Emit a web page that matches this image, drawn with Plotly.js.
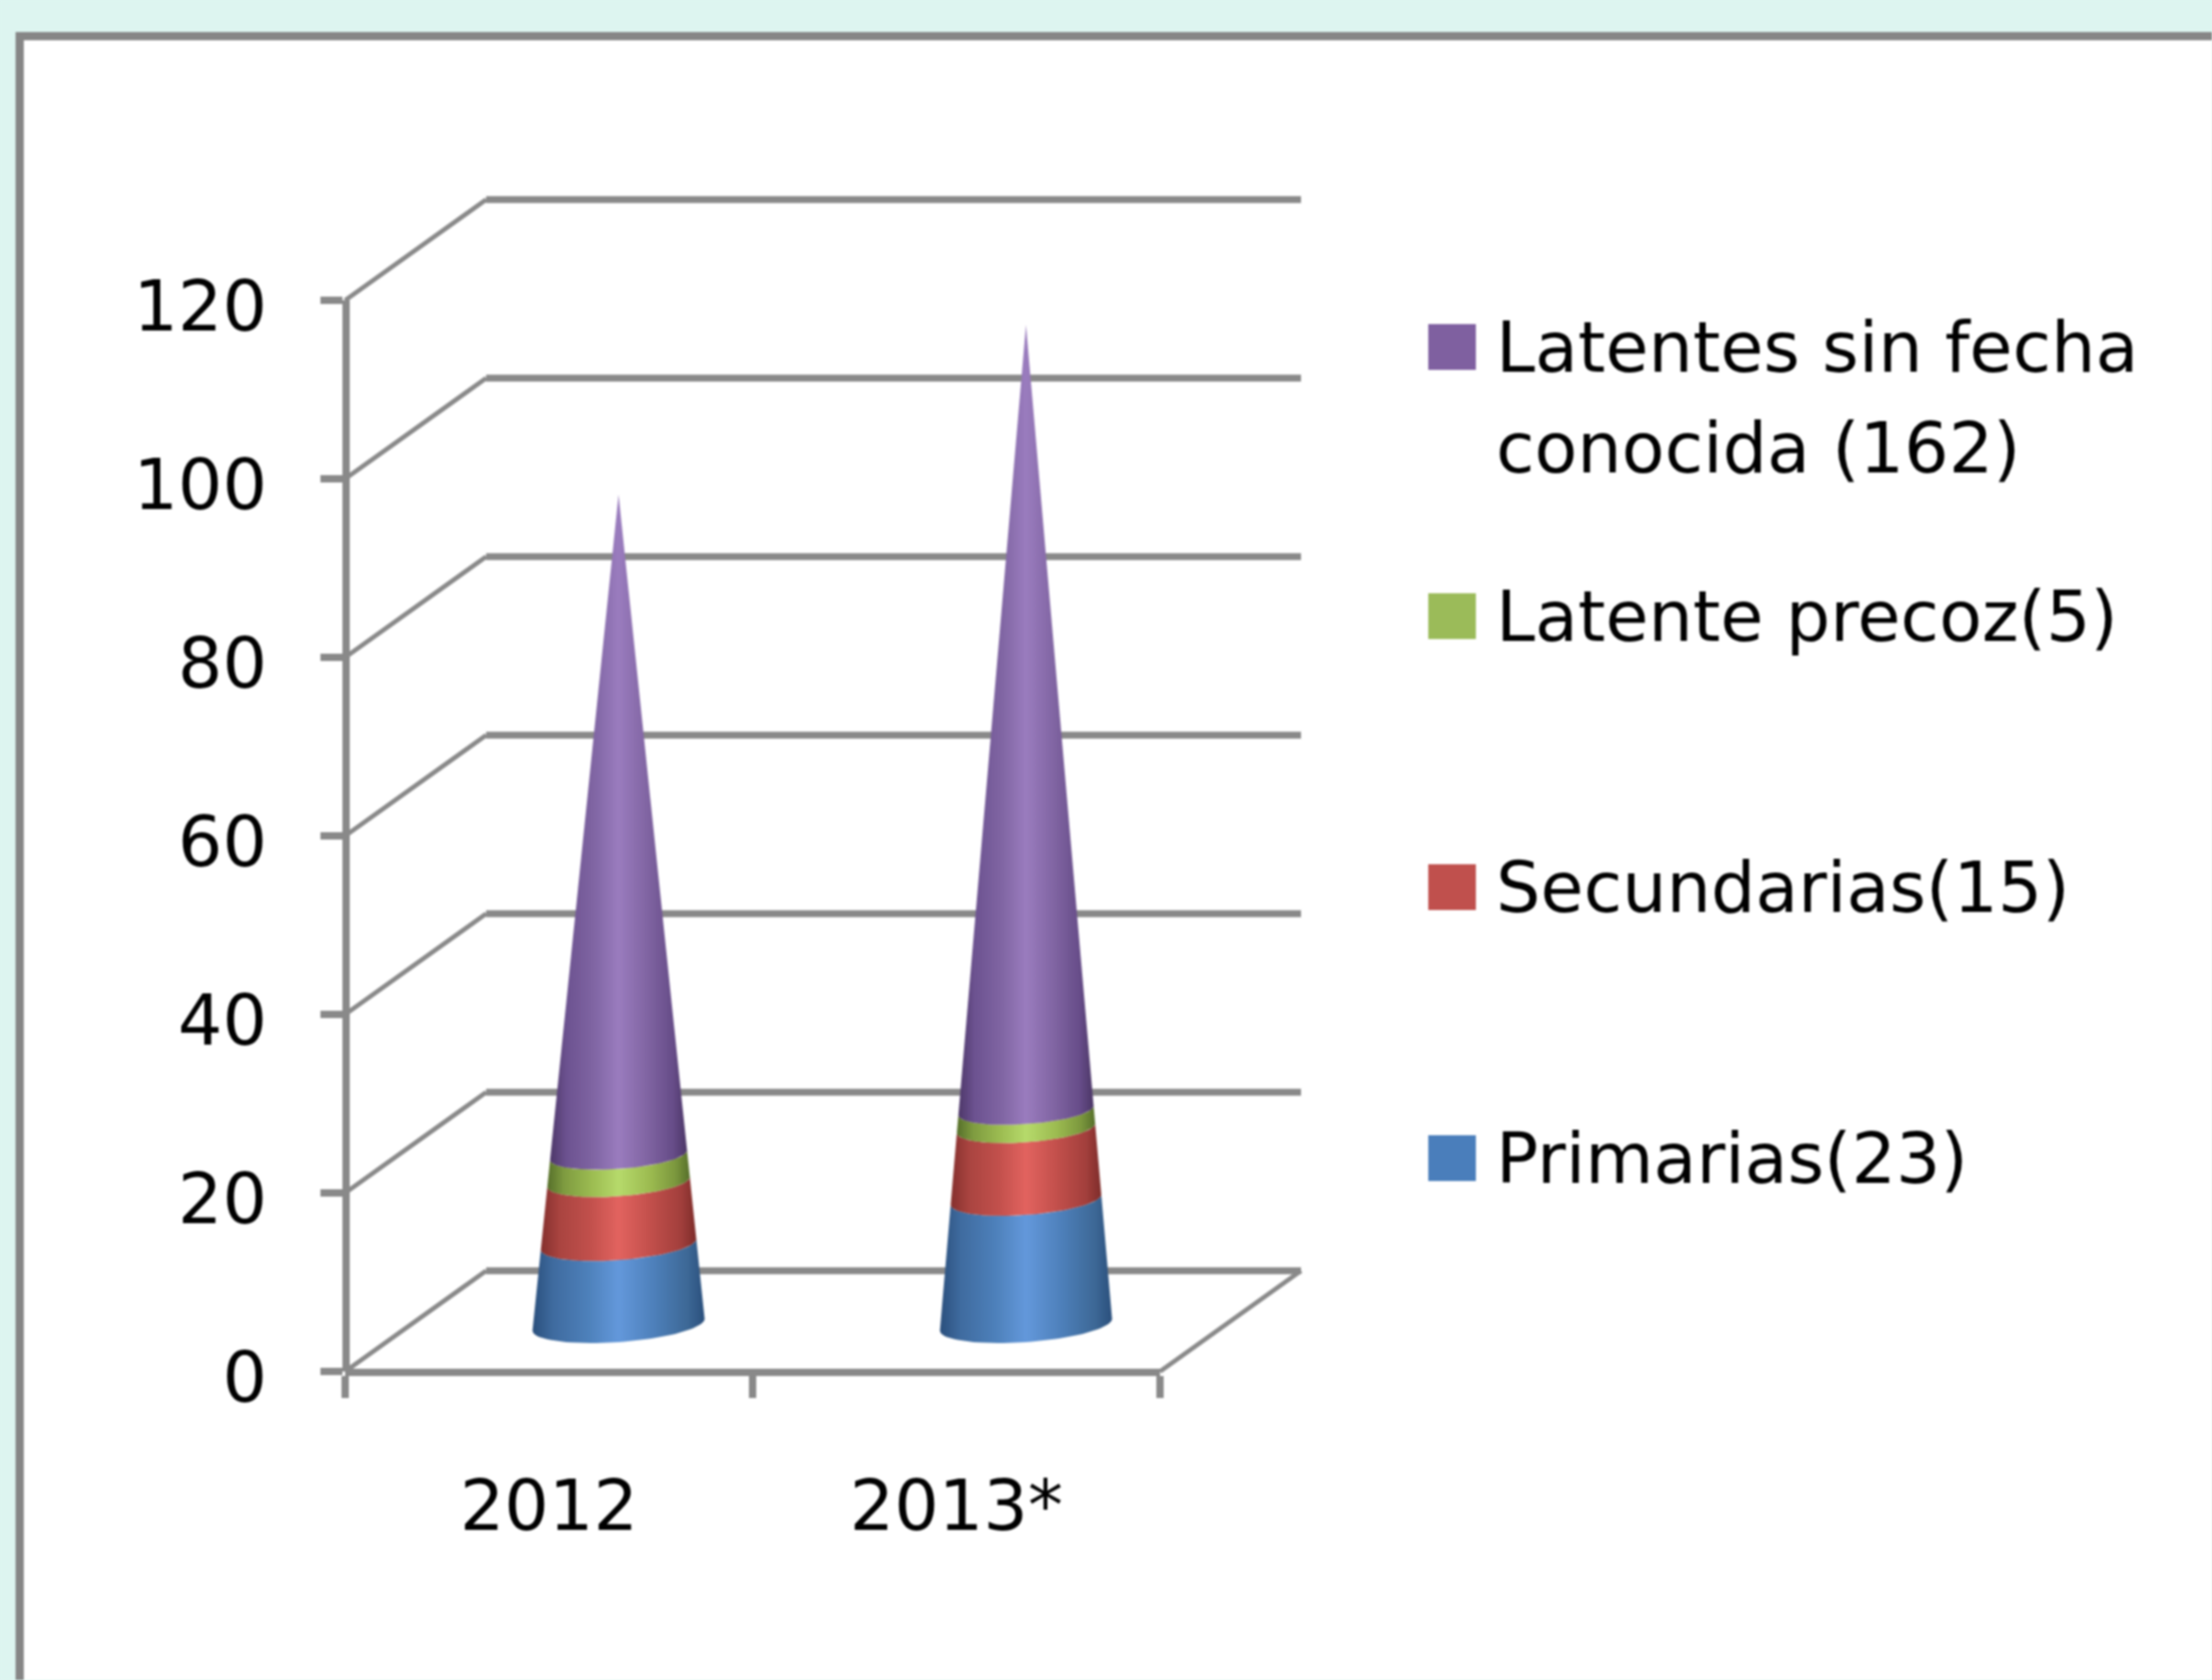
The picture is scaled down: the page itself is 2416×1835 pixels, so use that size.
<!DOCTYPE html>
<html>
<head>
<meta charset="utf-8">
<script src="https://cdn.plot.ly/plotly-3.0.1.min.js"></script>
<style>
html,body{margin:0;padding:0;background:#DDF5F0;overflow:hidden}
#chart{width:2416px;height:1835px;filter:blur(0.8px)}
</style>
</head>
<body>
<div id="chart"></div>
<script>
// ---- data ----
const categories = ['2012', '2013*'];
const primarias = [9, 14];
const secundarias = [7, 8];
const latentePrecoz = [3, 2];
const latentesSinFecha = [74, 88];
const yTicks = [0, 20, 40, 60, 80, 100, 120];
const seriesNames = ['Primarias(23)', 'Secundarias(15)', 'Latente precoz(5)', 'Latentes sin fecha<br>conocida (162)'];

// ---- styles ----
const GRID = '#898989';
const FONT = {family: '"DejaVu Sans", Verdana, sans-serif', size: 76.5, color: '#000000'};
const gradients = [
  [[0,'#2a4f7c'],[0.12,'#3f6b9f'],[0.32,'#4d80ba'],[0.5,'#6398db'],[0.72,'#4c7eb8'],[0.9,'#3d6896'],[1,'#2a4f7c']],
  [[0,'#842f2d'],[0.12,'#a94440'],[0.32,'#c2504c'],[0.5,'#e2635f'],[0.72,'#c04e4a'],[0.9,'#a23f3c'],[1,'#7d2c2a']],
  [[0,'#566f2a'],[0.12,'#7f9c40'],[0.32,'#9dbd52'],[0.5,'#b6da6b'],[0.72,'#9cbb50'],[0.9,'#7b973d'],[1,'#566f2a']],
  [[0,'#4d3769'],[0.12,'#6c5290'],[0.32,'#8065a3'],[0.5,'#9a7cbe'],[0.72,'#7f63a1'],[0.9,'#664c88'],[1,'#4b3666']]
];
const legendColors = ['#4a7ebb', '#c0504d', '#9bbb59', '#7f60a0'];

// ---- page geometry (pixels) ----
const W = 2416, H = 1835;
const L = 377, B = 1498;                  // the axis origin
const unitX = 445, unitY = 9.75;          // pixels for one category / one y unit
const BL = 367, BR = 1436, BT = 205, BB = 1510; // outer drawing box
const px = x => (x - BL) / (BR - BL);
const py = y => (BB - y) / (BB - BT);
const depthX = 154 / unitX, depthY = 110 / unitY;
const coneRx = 94 / unitX, coneRy = 19 / unitY, coneTilt = 6.5 / unitY;
const yMax = yTicks[yTicks.length - 1], nCat = categories.length;
const AXIS_W = 7.5;

const traces = [];
function wall(xs, ys, width) {
  traces.push({x: xs, y: ys, xaxis: 'x2', yaxis: 'y2', mode: 'lines', line: {color: GRID, width: width},
    showlegend: false, hoverinfo: 'skip'});
}
yTicks.forEach(v => {
  wall([0, depthX], [v, v + depthY], 5);
  wall([depthX, nCat + depthX], [v + depthY, v + depthY], 7.5);
});
wall([nCat, nCat + depthX], [0, depthY], 5);

// ---- cones, one polygon per stacked segment ----
const stacks = [primarias, secundarias, latentePrecoz, latentesSinFecha];
function arc(cx, cy, f, reverse) {
  const xs = [], ys = [], n = 48;
  for (let i = 0; i <= n; i++) {
    const t = Math.PI * (reverse ? n - i : i) / n;
    xs.push(cx - coneRx * f * Math.cos(t));
    ys.push(cy - coneRy * f * Math.sin(t) - coneTilt * f * Math.cos(t));
  }
  return [xs, ys];
}
categories.forEach((cat, c) => {
  const total = stacks.reduce((s, a) => s + a[c], 0);
  const cx = c + 0.5 + depthX / 2 - 0.002, y0 = depthY / 2 - 0.4;
  let h = 0;
  stacks.forEach((vals, s) => {
    const h2 = h + vals[c];
    const lo = arc(cx, y0 + h, 1 - h / total, false);
    const hi = arc(cx, y0 + h2, 1 - h2 / total, true);
    traces.push({
      x: lo[0].concat(hi[0]), y: lo[1].concat(hi[1]), xaxis: 'x2', yaxis: 'y2',
      mode: 'lines', line: {width: 0}, fill: 'toself',
      fillgradient: {type: 'horizontal', colorscale: gradients[s]},
      name: seriesNames[s] + ' ' + cat, showlegend: false, hoverinfo: 'skip'
    });
    h = h2;
  });
});
// an empty trace so the tick axes exist
traces.unshift({x: [0, nCat], y: [0, yMax], mode: 'none', showlegend: false, hoverinfo: 'skip'});

// ---- frame and legend ----
const shapes = [{
  type: 'rect', xref: 'paper', yref: 'paper', layer: 'below',
  x0: px(21.5), x1: px(W + 30), y0: py(39.5), y1: py(H + 30),
  fillcolor: '#ffffff', line: {color: '#868686', width: 9}
}];
const annotations = [];
const legendY = [1265, 969, 673, 379];
const LINE_PITCH = 111;
seriesNames.forEach((name, i) => {
  shapes.push({
    type: 'rect', xref: 'paper', yref: 'paper', layer: 'above',
    x0: px(1560), x1: px(1612), y0: py(legendY[i] - 25), y1: py(legendY[i] + 25),
    fillcolor: legendColors[i], line: {width: 0}
  });
  name.split('<br>').forEach((line, k) => {
    annotations.push({
      xref: 'paper', yref: 'paper', x: px(1633), y: py(legendY[i] + k * LINE_PITCH),
      xanchor: 'left', yanchor: 'middle', align: 'left', showarrow: false,
      text: line, font: FONT, borderpad: 0
    });
  });
});

const layout = {
  width: W, height: H, autosize: false,
  margin: {l: BL, r: W - BR, t: BT, b: H - BB, pad: 0},
  paper_bgcolor: '#DDF5F0', plot_bgcolor: 'rgba(0,0,0,0)',
  showlegend: false, shapes: shapes, annotations: annotations,
  xaxis: {
    domain: [px(L), px(L + nCat * unitX)], anchor: 'free', position: py(B), range: [0, nCat],
    type: 'linear', showgrid: false, zeroline: false,
    showline: true, linecolor: GRID, linewidth: AXIS_W,
    tickmode: 'array', tickvals: [0.5, 1.5], ticktext: categories,
    ticks: '', ticklabelstandoff: 77, tickfont: FONT,
    minor: {tickmode: 'array', tickvals: [0, 1, 2], ticks: 'outside', ticklen: 24, tickwidth: 8, tickcolor: GRID, showgrid: false}
  },
  yaxis: {
    domain: [py(B), py(B - yMax * unitY)], anchor: 'free', position: px(L), range: [0, yMax],
    type: 'linear', showgrid: false, zeroline: false,
    showline: true, linecolor: GRID, linewidth: AXIS_W,
    tickmode: 'array', tickvals: yTicks, ticks: 'outside', ticklen: 24, tickwidth: 8,
    tickcolor: GRID, ticklabelstandoff: 43, ticklabelshift: 6, tickfont: FONT
  },
  xaxis2: {domain: [0, 1], anchor: 'y2', range: [(BL - L) / unitX, (BR - L) / unitX], visible: false},
  yaxis2: {domain: [0, 1], anchor: 'x2', range: [(B - BB) / unitY, (B - BT) / unitY], visible: false}
};
Plotly.newPlot('chart', traces, layout, {displayModeBar: false, staticPlot: true});
</script>
</body>
</html>
